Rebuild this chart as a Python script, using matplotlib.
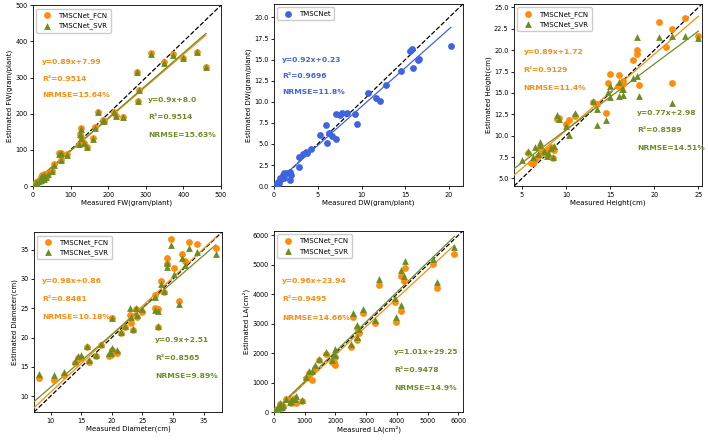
import matplotlib
matplotlib.use("Agg")
import matplotlib.pyplot as plt
import numpy as np

ORANGE = "#ff8c0a"
GREEN = "#6b8e23"
BLUE = "#3f64e0"

# FW (gram/plant)
fw_x = [313, 348, 372, 398, 436, 460, 277, 282, 280, 240, 220, 215, 190, 185, 173,
        165, 160, 143, 135, 128, 125, 122, 127, 90, 75, 70, 75, 55, 50, 30, 25, 20,
        30, 15, 10, 5, 35, 40, 8, 20, 3]
fw_fcn = [367, 342, 364, 354, 371, 330, 316, 267, 235, 191, 195, 206, 180, 183, 206,
          163, 132, 108, 119, 160, 145, 117, 135, 88, 92, 91, 72, 60, 43, 33, 30, 25,
          20, 15, 10, 5, 25, 35, 12, 18, 2]
fw_svr = [366, 341, 363, 353, 370, 329, 315, 266, 234, 190, 194, 205, 179, 182, 205,
          162, 131, 107, 118, 159, 144, 116, 134, 87, 91, 90, 71, 59, 42, 32, 29, 24,
          19, 14, 9, 4, 24, 34, 11, 17, 1]

# DW (gram/plant)
dw_x = [20.2, 16.6, 16.4, 15.9, 15.8, 15.5, 14.5, 12.8, 12.1, 11.6, 10.7, 9.5, 9.3,
        8.3, 7.8, 7.5, 7.1, 7.1, 6.6, 6.3, 6.1, 5.9, 5.3, 4.2, 3.8, 3.6, 3.3, 2.8,
        2.8, 1.9, 1.8, 1.8, 1.5, 1.2, 1.0, 0.8, 0.7, 0.5, 0.4, 0.3, 0.2, 0.6, 1.1]
dw_y = [16.6, 15.1, 14.9, 14.0, 16.2, 16.0, 13.7, 12.0, 10.1, 10.5, 11.1, 7.4, 8.6,
        8.7, 8.7, 8.4, 8.5, 5.6, 6.0, 6.3, 5.1, 7.3, 6.1, 4.4, 3.9, 4.1, 3.8, 2.3,
        3.4, 1.3, 0.7, 1.7, 1.6, 1.5, 1.3, 0.8, 1.0, 0.5, 0.3, 0.2, 0.1, 0.4, 1.0]

# Height (cm)
h_x_fcn = [25, 23.5, 22, 22, 21.3, 20.5, 18.3, 18.0, 18.0, 17.6, 16.5, 16.2, 16.0,
           15.9, 15.0, 14.8, 14.5, 13.5, 13.0, 11.0, 10.3, 10.0, 9.0, 8.6, 8.5, 8.3,
           8.0, 8.0, 7.7, 7.0, 6.8, 6.5, 6.2, 6.0, 5.7, 7.5, 7.2, 9.2, 16.5]
h_fcn = [21.7, 23.7, 22.5, 16.2, 20.4, 23.3, 15.9, 20.0, 19.6, 18.8, 16.4, 16.1, 17.1,
         15.8, 17.2, 16.1, 12.7, 13.7, 13.9, 12.3, 11.8, 11.4, 12.0, 8.3, 7.4, 8.7,
         7.6, 8.3, 7.9, 8.7, 7.6, 7.1, 6.8, 6.8, 8.0, 8.1, 8.0, 12.1, 16.0]
h_x_svr = [25, 23.5, 22, 22, 20.5, 18.3, 18.0, 18.0, 17.6, 16.5, 16.5, 16.0, 16.0,
           16.3, 15.0, 15.0, 14.8, 14.5, 13.5, 13.5, 13.0, 11.0, 10.3, 10.0, 9.2, 9.0,
           8.6, 8.3, 8.0, 7.8, 7.0, 7.0, 6.8, 6.5, 6.2, 5.7, 5.0, 7.5, 8.5]
h_svr = [21.4, 21.6, 21.6, 13.8, 21.5, 14.6, 21.5, 17.0, 16.7, 15.4, 14.8, 16.3, 14.6,
         15.5, 15.8, 14.5, 15.1, 11.8, 11.3, 13.1, 14.1, 12.7, 10.1, 11.1, 11.9, 12.4,
         8.8, 8.6, 8.0, 7.6, 9.3, 8.9, 7.8, 8.7, 7.5, 8.2, 7.1, 8.2, 7.5]

# Diameter (cm)
d_x = [8.2, 10.5, 12.2, 14.0, 14.5, 15.0, 16.0, 16.3, 17.5, 18.2, 19.5, 20.0, 20.0,
       20.8, 21.5, 22.2, 23.0, 23.2, 23.5, 24.0, 24.2, 25.0, 27.0, 27.0, 27.5, 28.0,
       28.5, 29.0, 29.0, 29.6, 30.2, 31.0, 31.5, 32.0, 32.6, 34.0, 37.0, 27.5, 19.8]
d_fcn = [13.1, 12.8, 13.6, 15.7, 16.5, 16.6, 18.4, 15.8, 16.8, 18.8, 16.8, 23.3, 17.9,
         17.3, 20.7, 21.8, 23.9, 22.5, 21.3, 24.9, 23.5, 24.3, 27.2, 25.0, 24.8, 29.6,
         27.8, 33.5, 32.5, 36.8, 31.8, 26.3, 34.2, 33.1, 36.3, 35.9, 35.3, 21.8, 17.0]
d_svr = [13.8, 13.6, 14.2, 16.0, 16.9, 17.0, 18.6, 16.2, 17.0, 18.9, 17.3, 23.4, 18.2,
         17.8, 21.0, 22.0, 25.1, 23.5, 21.4, 25.0, 23.8, 24.8, 27.0, 24.7, 24.6, 29.2,
         27.9, 32.1, 32.7, 35.8, 30.8, 25.8, 33.5, 32.4, 35.2, 34.6, 34.3, 22.0, 17.3]

# LA (cm2)
la_x = [5870, 5300, 5180, 4270, 4220, 4130, 4140, 3980, 3930, 3430, 3280, 2900, 2750,
        2700, 2700, 2580, 2520, 1980, 2000, 1950, 1880, 1700, 1450, 1320, 1230, 1150,
        1050, 900, 700, 680, 600, 550, 520, 400, 300, 200, 150, 100, 50, 0, 250]
la_fcn = [5370, 4200, 5010, 4880, 4430, 4630, 3420, 3050, 3720, 4310, 3010, 3360, 2680,
          2440, 2850, 3230, 2220, 1600, 1850, 1700, 1680, 1980, 1750, 1500, 1080, 1330,
          1150, 370, 300, 480, 350, 300, 420, 430, 220, 270, 150, 100, 50, 20, 150]
la_svr = [5600, 4420, 5200, 5110, 4620, 4820, 3620, 3230, 3870, 4520, 3110, 3480, 2800,
          2540, 2960, 3370, 2310, 2130, 1950, 1960, 1750, 2050, 1800, 1580, 1380, 1400,
          1200, 400, 560, 450, 450, 380, 330, 450, 250, 300, 180, 120, 80, 50, 180]

FS_TICK = 4.7
FS_LABEL = 5.0
FS_TEXT = 5.4
MS = 24


def style_axes(ax, lim, xlabel, ylabel, ticks):
    ax.set_xlim(lim)
    ax.set_ylim(lim)
    ax.set_xticks(ticks[0])
    ax.set_yticks(ticks[1])
    ax.tick_params(labelsize=FS_TICK, length=2.5, width=0.6, pad=1.5)
    ax.set_xlabel(xlabel, fontsize=FS_LABEL, labelpad=1.5)
    ax.set_ylabel(ylabel, fontsize=FS_LABEL, labelpad=1.5)
    for s in ax.spines.values():
        s.set_linewidth(0.6)
    ax.plot(lim, lim, color="black", linestyle="--", linewidth=0.9, zorder=1)


def fit_line(ax, x, k, b, color, lim):
    xs = np.array([lim[0], max(x)])
    ax.plot(xs, k * xs + b, color=color, linewidth=0.9, zorder=3)


def stats(ax, x0, ys, lines, color):
    for y, t in zip(ys, lines):
        ax.text(x0, y, t, transform=ax.transAxes, color=color, fontsize=FS_TEXT,
                fontweight="bold", va="center", ha="left")


def legend(ax):
    ax.legend(loc="upper left", fontsize=FS_LABEL, markerscale=1.0,
              handletextpad=0.6, borderpad=0.5, labelspacing=0.5,
              framealpha=1.0, edgecolor="#cccccc", fancybox=True)


def two_model(ax, xf, yf, xs, ys):
    ax.scatter(xf, yf, s=MS, color=ORANGE, marker="o", linewidths=0,
               label="TMSCNet_FCN", zorder=4)
    ax.scatter(xs, ys, s=MS, color=GREEN, marker="^", linewidths=0,
               label="TMSCNet_SVR", zorder=4)


fig = plt.figure(figsize=(7.08, 4.40), dpi=100)

# FW
ax1 = fig.add_axes([0.0466, 0.577, 0.2655, 0.411])
lim = (0, 500)
style_axes(ax1, lim, "Measured FW(gram/plant)", "Estimated FW(gram/plant)",
           (range(0, 501, 100), range(0, 501, 100)))
two_model(ax1, fw_x, fw_fcn, fw_x, fw_svr)
fit_line(ax1, fw_x, 0.89, 7.99, ORANGE, lim)
fit_line(ax1, fw_x, 0.9, 8.0, GREEN, lim)
legend(ax1)
stats(ax1, 0.048, [0.686, 0.594, 0.502],
      ["y=0.89x+7.99", "R²=0.9514", "NRMSE=15.64%"], ORANGE)
stats(ax1, 0.613, [0.478, 0.382, 0.284],
      ["y=0.9x+8.0", "R²=0.9514", "NRMSE=15.63%"], GREEN)

# DW
ax2 = fig.add_axes([0.387, 0.577, 0.267, 0.414])
lim = (0, 21.6)
style_axes(ax2, lim, "Measured DW(gram/plant)", "Estimated DW(gram/plant)",
           ([0, 5, 10, 15, 20], np.arange(0, 20.1, 2.5)))
ax2.scatter(dw_x, dw_y, s=MS, color=BLUE, marker="o", linewidths=0,
            label="TMSCNet", zorder=4)
fit_line(ax2, dw_x, 0.92, 0.23, BLUE, lim)
legend(ax2)
stats(ax2, 0.044, [0.695, 0.607, 0.517],
      ["y=0.92x+0.23", "R²=0.9696", "NRMSE=11.8%"], BLUE)

# Height
ax3 = fig.add_axes([0.726, 0.577, 0.2655, 0.414])
lim = (4.1, 25.4)
style_axes(ax3, lim, "Measured Height(cm)", "Estimated Height(cm)",
           ([5, 10, 15, 20, 25], np.arange(5, 25.1, 2.5)))
two_model(ax3, h_x_fcn, h_fcn, h_x_svr, h_svr)
fit_line(ax3, h_x_fcn, 0.89, 1.72, ORANGE, lim)
fit_line(ax3, h_x_svr, 0.77, 2.98, GREEN, lim)
legend(ax3)
stats(ax3, 0.05, [0.734, 0.639, 0.539],
      ["y=0.89x+1.72", "R²=0.9129", "NRMSE=11.4%"], ORANGE)
stats(ax3, 0.655, [0.404, 0.306, 0.209],
      ["y=0.77x+2.98", "R²=0.8589", "NRMSE=14.51%"], GREEN)

# Diameter
ax4 = fig.add_axes([0.048, 0.0636, 0.2655, 0.409])
lim = (7.3, 38.0)
style_axes(ax4, lim, "Measured Diameter(cm)", "Estimated Diameter(cm)",
           ([10, 15, 20, 25, 30, 35], [10, 15, 20, 25, 30, 35]))
two_model(ax4, d_x, d_fcn, d_x, d_svr)
fit_line(ax4, d_x, 0.98, 0.86, ORANGE, lim)
fit_line(ax4, d_x, 0.9, 2.51, GREEN, lim)
legend(ax4)
stats(ax4, 0.044, [0.726, 0.626, 0.528],
      ["y=0.98x+0.86", "R²=0.8481", "NRMSE=10.18%"], ORANGE)
stats(ax4, 0.645, [0.398, 0.300, 0.200],
      ["y=0.9x+2.51", "R²=0.8565", "NRMSE=9.89%"], GREEN)

# LA
ax5 = fig.add_axes([0.387, 0.0636, 0.267, 0.412])
lim = (0, 6150)
style_axes(ax5, lim, "Measured LA(cm²)", "Estimated LA(cm²)",
           (range(0, 6001, 1000), range(0, 6001, 1000)))
two_model(ax5, la_x, la_fcn, la_x, la_svr)
fit_line(ax5, la_x, 0.96, 23.94, ORANGE, lim)
fit_line(ax5, la_x, 1.01, 29.25, GREEN, lim)
legend(ax5)
stats(ax5, 0.044, [0.720, 0.622, 0.521],
      ["y=0.96x+23.94", "R²=0.9495", "NRMSE=14.66%"], ORANGE)
stats(ax5, 0.635, [0.331, 0.232, 0.134],
      ["y=1.01x+29.25", "R²=0.9478", "NRMSE=14.9%"], GREEN)

fig.savefig("out.png", dpi=100)
